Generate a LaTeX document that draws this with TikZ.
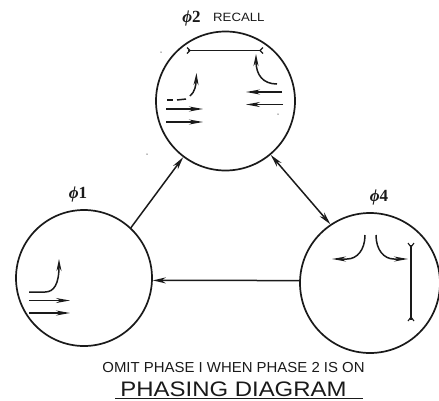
\documentclass[tikz,border=0pt]{standalone}
\usepackage{fontspec}
\setmainfont{Liberation Sans}
\newfontfamily\phifont{Liberation Serif}[BoldFont={Liberation Serif Bold},ItalicFont={Liberation Serif Italic},BoldItalicFont={Liberation Serif Bold Italic}]
\usetikzlibrary{arrows.meta}
\definecolor{ink}{HTML}{1A1A1A}
\tikzset{
  x=1pt,y=-1pt,
  disc/.style={circle,draw=ink,line width=1.7pt,inner sep=0pt,minimum size=#1},
  link/.style={draw=ink,line width=1.5pt},
  tip/.style={-{Stealth[length=13pt,width=6pt]}},
  dtip/.style={{Stealth[length=13pt,width=6pt]}-{Stealth[length=13pt,width=6pt]}},
  lane/.style={draw=ink,line width=1.5pt},
  laneh/.style={lane,-{Stealth[length=14pt,width=5pt]}},
  laneu/.style={lane,-{Stealth[length=12pt,width=5pt]}},
  fork/.style={draw=ink,line width=1.1pt},
  phase/.style={text=ink,font=\phifont\bfseries\fontsize{17}{17}\selectfont,inner sep=0pt,anchor=base},
  letter/.style={text=ink,inner sep=0pt,anchor=base},
  speck/.style={fill=ink!60,circle,inner sep=0pt,minimum size=1.5pt}
}
\begin{document}
\begin{tikzpicture}
\useasboundingbox (0,0) rectangle (439,400);
% phase circles
\node[disc=139pt] (t) at (225.5,101) {};
\node[disc=136pt] (l) at (84,278) {};
\node[disc=140pt] (r) at (370,283) {};
% connectors between phases
\draw[link,tip] (l.47) -- (t.233);
\draw[link,dtip] (t.-50.5) -- (r.124.3);
\draw[link,tip] (r.178.4) -- (l.-2.5);
% labels
\node[phase] (lt) at (191.5,22) {\textit{ϕ}2};
\node[letter,anchor=base west] (ltt) at (213,21) {\scalebox{1.1}[1]{\fontsize{12}{12}\selectfont RECALL}};
\node[phase] (ll) at (78,198) {\textit{ϕ}1};
\node[phase] (lr) at (379,201) {\textit{ϕ}4};
\node[letter] (omit) at (233.5,372) {\scalebox{1.03}[1]{\fontsize{14.5}{14.5}\selectfont OMIT PHASE I WHEN PHASE 2 IS ON}};
\node[letter] (title) at (233.5,396.5) {\scalebox{1.14}[1]{\fontsize{21}{21}\selectfont PHASING DIAGRAM}};
\coordinate (ula) at (115,398.8);
\coordinate (ulb) at (363,398.8);
\draw[draw=ink,line width=0.7pt] (ula) -- (ulb);
% phase 2 movements
\coordinate (a1) at (188,50.5);
\coordinate (a2) at (261,50.5);
\draw[lane] (a1) -- (a2);
\draw[fork] (187,47.5) -- (190,50.5) -- (187,53.5);
\draw[fork] (263,47.5) -- (260,50.5) -- (263,53.5);
\draw[laneu] (277,84) .. controls (263,84) and (256,75) .. (256,54);
\draw[lane] (167,100) -- (173,100);
\draw[lane] (177,100) -- (186,99);
\draw[laneu] (190,96) .. controls (195,92) and (196,85) .. (196.5,73);
\draw[laneh] (166,109) -- (203,109);
\draw[laneh] (166,122) -- (203,122);
\draw[laneh] (282,92) -- (246,92);
\draw[laneh] (283,104.5) -- (246,104.5);
% phase 1 movements
\draw[laneu] (29,292) -- (45,292) .. controls (54,292) and (59,284) .. (59,259);
\draw[laneh] (29,300.5) -- (70,300.5);
\draw[laneh] (29,313) -- (70,313);
% phase 4 movements
\draw[laneh] (365,235) .. controls (365,250) and (357,259) .. (347,259) -- (332,259);
\draw[laneh] (376,235) .. controls (376,250) and (384,259) .. (394,259) -- (408,259);
\draw[lane] (411,245) -- (411,320);
\draw[fork] (408,243) -- (411,247) -- (414,243);
\draw[fork] (408,321) -- (411,317) -- (414,321);
% specks
\node[speck] (s1) at (278,114) {};
\node[speck] (s2) at (161,52) {};
\node[speck] (s3) at (147,154) {};
\end{tikzpicture}
\end{document}
